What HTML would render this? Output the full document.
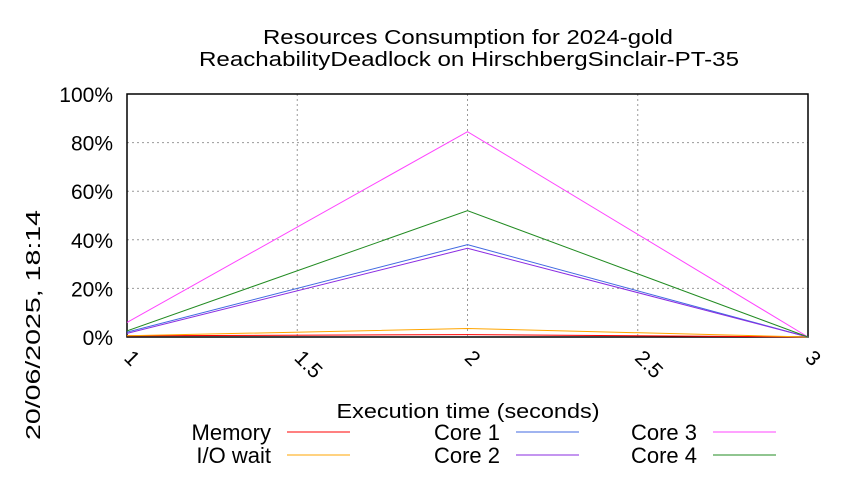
<!DOCTYPE html>
<html><head><meta charset="utf-8"><style>
body{margin:0;background:#fff;font-family:"Liberation Sans",sans-serif}
svg text{font-family:"Liberation Sans",sans-serif;fill:#000}
</style></head><body>
<svg id="c" width="850" height="475"></svg>
<script>
const xs=[1,2,3];
const memory=[0.5,1,0];
const iowait=[0.5,3.5,0];
const core1=[2,38,0];
const core2=[1.5,36.5,0];
const core3=[6,84.5,0];
const core4=[2.5,52,0];
const xTicks=[1,1.5,2,2.5,3];
const xTickLabels=["1","1.5","2","2.5","3"];
const yTicks=[0,20,40,60,80,100];
const yTickLabels=["0%","20%","40%","60%","80%","100%"];
const L=127,R=808,T=94,B=337;
const X=v=>L+(v-1)/2*(R-L), Y=v=>B-v/100*(B-T);
const s=document.getElementById('c'),NS="http://www.w3.org/2000/svg";
function el(t,a,txt){const e=document.createElementNS(NS,t);for(const k in a)e.setAttribute(k,a[k]);if(txt!=null)e.textContent=txt;s.appendChild(e);return e;}
let e;
e=el('text',{x:468,y:44,'text-anchor':'middle','font-size':20,textLength:410,lengthAdjust:'spacingAndGlyphs'},'Resources Consumption for 2024-gold');

e=el('text',{x:469,y:66,'text-anchor':'middle','font-size':20,textLength:540,lengthAdjust:'spacingAndGlyphs'},'ReachabilityDeadlock on HirschbergSinclair-PT-35');

yTicks.forEach((v,i)=>{
 e=el('line',{x1:L,x2:R,y1:Y(v),y2:Y(v),stroke:'#999','stroke-dasharray':'2,3','stroke-width':1});
 
 e=el('text',{x:L-14,y:Y(v)+8,'text-anchor':'end','font-size':21},yTickLabels[i]);
 
});
xTicks.forEach((v,i)=>{
 e=el('line',{x1:X(v),x2:X(v),y1:T,y2:B,stroke:'#999','stroke-dasharray':'2,3','stroke-width':1});
 
 e=el('text',{x:X(v)-4,y:B+22,'font-size':21,transform:`rotate(45 ${X(v)-4} ${B+22})`},xTickLabels[i]);
 
});
e=el('rect',{x:L,y:T,width:R-L,height:B-T,fill:'none',stroke:'#000','stroke-width':1.5});

const series=[["memory",memory,"#ff0000"],["io-wait",iowait,"#ffa500"],["core-1",core1,"#4169e1"],["core-2",core2,"#8a2be2"],["core-3",core3,"#ff44ff"],["core-4",core4,"#228b22"]];
series.forEach(([n,d,c])=>{
 e=el('polyline',{points:xs.map((x,i)=>X(x)+','+Y(d[i])).join(' '),fill:'none',stroke:c,'stroke-width':1});
 
});
e=el('text',{x:468,y:418,'text-anchor':'middle','font-size':20,textLength:263,lengthAdjust:'spacingAndGlyphs'},'Execution time (seconds)');

e=el('text',{x:40,y:325,'text-anchor':'middle','font-size':20,textLength:230,lengthAdjust:'spacingAndGlyphs',transform:'rotate(-90 40 325)'},'20/06/2025, 18:14');

const legNames=["Memory","I/O wait","Core 1","Core 2","Core 3","Core 4"];
const legColors=["#ff0000","#ffa500","#4169e1","#8a2be2","#ff44ff","#228b22"];
const colEnds=[271,500,697];
legNames.forEach((n,i)=>{
 const col=Math.floor(i/2),row=i%2,tx=colEnds[col],ly=432+row*23;
 e=el('text',{x:tx,y:ly+8,'text-anchor':'end','font-size':22},n);
 
 e=el('line',{x1:tx+16,x2:tx+79,y1:ly,y2:ly,stroke:legColors[i],'stroke-width':1});
 
});
</script>
</body></html>
